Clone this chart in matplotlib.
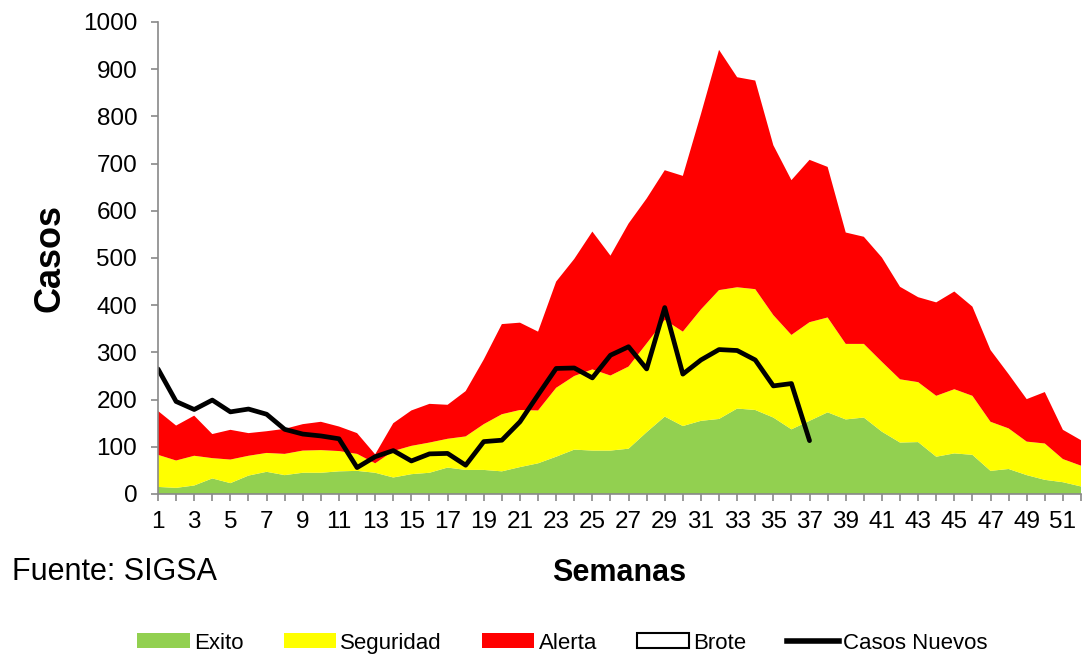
import matplotlib
matplotlib.use('Agg')
import matplotlib.pyplot as plt
from matplotlib.patches import Patch
from matplotlib.lines import Line2D
import numpy as np

semanas = np.arange(1, 53)

exito = [15, 13, 18, 33, 23, 39, 47, 40, 45, 45, 48, 49, 45, 35, 42, 45, 56, 51, 51, 48,
         57, 65, 79, 94, 92, 92, 96, 131, 164, 144, 155, 159, 181, 178, 162, 137, 155, 173,
         158, 162, 132, 109, 110, 79, 86, 83, 49, 53, 40, 30, 25, 16]
seguridad = [68, 58, 63, 43, 50, 42, 40, 45, 47, 48, 43, 36, 20, 56, 60, 64, 61, 71, 97, 121,
             121, 112, 146, 156, 172, 159, 174, 188, 205, 200, 236, 273, 257, 256, 217, 200,
             209, 201, 160, 156, 148, 134, 127, 129, 136, 125, 104, 86, 71, 77, 49, 44]
alerta = [93, 74, 85, 51, 63, 48, 46, 53, 56, 60, 52, 44, 19, 59, 75, 82, 72, 96, 137, 191,
          185, 167, 225, 248, 292, 254, 303, 307, 317, 330, 414, 509, 445, 442, 360, 328,
          344, 319, 236, 227, 221, 196, 180, 198, 207, 189, 152, 115, 90, 109, 62, 54]

semanas_casos = np.arange(1, 38)
casos_nuevos = [265, 196, 179, 199, 174, 180, 169, 137, 127, 123, 117, 56, 79, 92, 70, 85, 86,
                61, 111, 114, 153, 210, 266, 267, 246, 294, 312, 265, 395, 254, 284, 306, 304,
                284, 229, 234, 113]

plt.rcParams['font.family'] = ['Liberation Sans', 'DejaVu Sans']

fig = plt.figure(figsize=(10.82, 6.55), dpi=100)
ax = fig.add_axes([158 / 1082, 1 - 494 / 655, (1081 - 158) / 1082, (494 - 22) / 655])

ax.stackplot(semanas, exito, seguridad, alerta,
             colors=['#92D050', '#FFFF00', '#FF0000'], linewidth=0)
ax.plot(semanas_casos, casos_nuevos, color='black', lw=3.4,
        solid_capstyle='round', solid_joinstyle='round')

ax.set_xlim(1, 52)
ax.set_ylim(0, 1000)
ax.set_yticks(range(0, 1001, 100))
ax.set_xticks(semanas)
ax.set_xticklabels([str(s) if s % 2 == 1 else '' for s in semanas])

gris = '#898989'
for s in ['top', 'right']:
    ax.spines[s].set_visible(False)
for s in ['left', 'bottom']:
    ax.spines[s].set_color(gris)
    ax.spines[s].set_linewidth(1.2)
ax.tick_params(axis='both', direction='out', length=5, width=1.2, color=gris,
               labelsize=17.5)
ax.tick_params(axis='x', pad=7)
ax.tick_params(axis='y', pad=10)

ax.set_ylabel('Casos', fontsize=26, fontweight='bold')
ax.yaxis.set_label_coords(-0.098, 0.5)
ax.set_xlabel('Semanas', fontsize=22, fontweight='bold')
ax.xaxis.set_label_coords(0.5, -0.135)

fig.text(0.011, 0.127, 'Fuente: SIGSA', fontsize=22, va='center', ha='left')

handles = [Patch(facecolor='#92D050', edgecolor='none'),
           Patch(facecolor='#FFFF00', edgecolor='none'),
           Patch(facecolor='#FF0000', edgecolor='none'),
           Patch(facecolor='white', edgecolor='black', linewidth=1.5),
           Line2D([0], [0], color='black', lw=4)]
fig.legend(handles, ['Exito', 'Seguridad', 'Alerta', 'Brote', 'Casos Nuevos'],
           loc='center', bbox_to_anchor=(0.52, 0.018), ncol=5, frameon=False,
           prop={'size': 16}, handlelength=2.35, handleheight=0.65,
           handletextpad=0.2, columnspacing=1.8, borderaxespad=0)

fig.savefig('out.png', dpi=100)
